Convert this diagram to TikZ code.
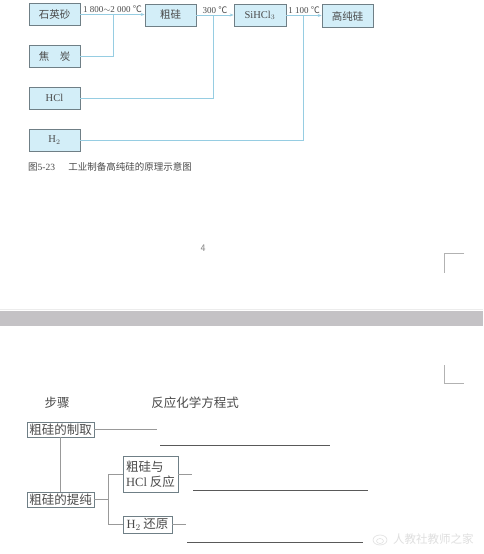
\documentclass[tikz,border=0pt]{standalone}
\usepackage{fontspec}
\setmainfont{Liberation Serif}
\newfontfamily\cjk{Noto Sans CJK SC}
\usetikzlibrary{arrows.meta}
\definecolor{boxfill}{HTML}{D3EEF8}
\definecolor{boxline}{HTML}{6F7F86}
\definecolor{flowline}{HTML}{96CDE2}
\definecolor{inkgray}{HTML}{4A4A4A}
\definecolor{bandgray}{HTML}{C4C2C5}
\begin{document}
\begin{tikzpicture}[x=1pt,y=-1pt,
  procbox/.style={draw=boxline,line width=0.7pt,fill=boxfill,minimum width=51pt,minimum height=22pt,inner sep=0pt,font=\fontsize{10.5}{12}\selectfont,text=inkgray},
  flow/.style={draw=flowline,line width=0.8pt},
  flowarrow/.style={flow,-{Stealth[length=4pt,width=3pt]}},
  templabel/.style={anchor=south,inner sep=1pt,font=\fontsize{9}{10}\selectfont,text=inkgray},
  stepbox/.style={draw=boxline,line width=0.6pt,inner sep=1.5pt,font=\cjk\fontsize{12.5}{15}\selectfont,text=inkgray},
  thin/.style={draw=gray!80,line width=0.5pt},
  blank/.style={draw=gray!70!black,line width=0.6pt}]
\useasboundingbox (0,0) rectangle (483,554);
\fill[white] (0,0) rectangle (483,554);

% ---- upper flow chart ----
\node[procbox] (sand) at (54.5,14.5) {\cjk 石英砂};
\node[procbox] (cusi) at (170.5,15) {\cjk 粗硅};
\node[procbox,minimum width=52pt] (sihcl) at (260,15.5) {SiHCl$_3$};
\node[procbox,minimum height=23pt] (pure) at (347.5,16) {\cjk 高纯硅};
\node[procbox] (coke) at (54.5,56) {\cjk 焦\quad 炭};
\node[procbox] (hcl) at (54.5,98) {HCl};
\node[procbox] (htwo) at (54.5,140) {H$_2$};

\draw[flowarrow] (sand.east) -- (sand.east -| cusi.west) node[midway,templabel] (t1) {1 800$\sim$2 000 {\cjk ℃}};
\draw[flowarrow] (cusi.east) -- (cusi.east -| sihcl.west) node[midway,templabel] (t2) {300 {\cjk ℃}};
\draw[flowarrow] (sihcl.east) -- (sihcl.east -| pure.west) node[midway,templabel] (t3) {1 100 {\cjk ℃}};

\coordinate (j1) at (113,14.5);
\coordinate (j2) at (213,15);
\coordinate (j3) at (303,15.5);
\draw[flow] (coke.east) -| (j1);
\draw[flow] (hcl.east) -| (j2);
\draw[flow] (htwo.east) -| (j3);

\node[anchor=west,inner sep=0pt,text=inkgray,font=\fontsize{9.5}{11}\selectfont] (cap) at (28,167) {{\cjk 图}5-23\hspace{1.4em}{\cjk 工业制备高纯硅的原理示意图}};

% ---- page footer / separator ----
\node[text=gray,font=\sffamily\fontsize{10}{11}\selectfont] (pg) at (203,248) {4};
\draw[gray!60,line width=0.6pt] (464,253) -- (444,253) -- (444,273);
\fill[bandgray] (0,311) rectangle (483,326);
\draw[gray!15,line width=0.6pt] (0,309.5) -- (483,309.5);
\draw[gray!60,line width=0.6pt] (444,365) -- (444,383) -- (464,383);

% ---- lower outline ----
\node[text=inkgray,font=\cjk\fontsize{12.5}{15}\selectfont] (hstep) at (57,403) {步骤};
\node[text=inkgray,font=\cjk\fontsize{12.5}{15}\selectfont] (hequ) at (195,403) {反应化学方程式};

\node[stepbox,minimum width=67pt,minimum height=15pt] (s1) at (60.5,429.5) {粗硅的制取};
\node[stepbox,minimum width=67pt,minimum height=15pt] (s2) at (60.5,499.5) {粗硅的提纯};
\node[stepbox,minimum width=55pt,minimum height=36pt,align=left] (s3) at (150.5,474) {粗硅与\\{\rmfamily HCl} 反应};
\node[stepbox,minimum width=49pt,minimum height=17pt] (s4) at (147.5,524.5) {{\rmfamily H$_2$} 还原};

\draw[thin] (s1.south) -- (s2.north);
\coordinate (b) at (108,499.5);
\draw[thin] (s2.east) -- (b);
\draw[thin] (s3.west) -- (s3.west -| b) |- (s4.west);

\coordinate (e1) at (157,429.5);
\coordinate (e3) at (192,474);
\coordinate (e4) at (186,524.5);
\draw[thin] (s1.east) -- (e1);
\draw[thin] (s3.east) -- (e3);
\draw[thin] (s4.east) -- (e4);

\draw[blank] (160,445) -- (330,445);
\draw[blank] (193,490) -- (368,490);
\draw[blank] (187,542) -- (363,542);

% watermark
\draw[gray!25,line width=0.6pt] (380,540) ellipse (7pt and 5pt);
\draw[gray!25,line width=0.5pt] (380,541) ellipse (3.5pt and 2.5pt);
\node[anchor=west,text=gray!25,inner sep=0pt,font=\cjk\fontsize{11.5}{13}\selectfont] (wm) at (393,539) {人教社教师之家};
\end{tikzpicture}
\end{document}
